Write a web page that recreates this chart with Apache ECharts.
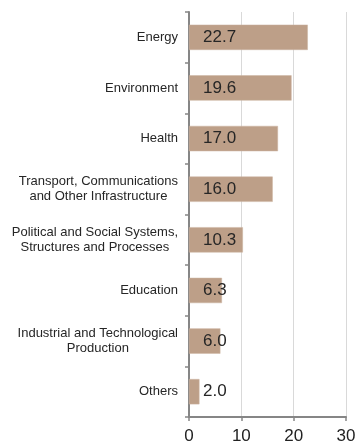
<!DOCTYPE html>
<html><head><meta charset="utf-8">
<script src="https://cdn.jsdelivr.net/npm/echarts@6/dist/echarts.min.js"></script>
<style>html,body{margin:0;padding:0;background:#fff}#c{width:357px;height:442px}</style>
</head><body><div id="c"></div>
<script>
const categories = [
  'Energy',
  'Environment',
  'Health',
  'Transport, Communications\nand Other Infrastructure',
  'Political and Social Systems,\nStructures and Processes',
  'Education',
  'Industrial and Technological\nProduction',
  'Others'
];
const values = [22.7, 19.6, 17.0, 16.0, 10.3, 6.3, 6.0, 2.0];
const xTicks = [0, 10, 20, 30];

const chart = echarts.init(document.getElementById('c'), null, {renderer: 'canvas'});
chart.setOption({
  animation: false,
  grid: {left: 189, right: 11, top: 12, bottom: 25, containLabel: false, outerBoundsMode: 'none'},
  xAxis: {
    type: 'value', min: xTicks[0], max: xTicks[xTicks.length - 1], interval: 10,
    axisLine: {show: true, lineStyle: {color: '#868686', width: 2}},
    axisTick: {show: true, length: 4, lineStyle: {color: '#868686', width: 1.5}},
    axisLabel: {color: '#222', fontSize: 17, fontFamily: 'Liberation Sans, Arial, sans-serif', margin: 11},
    splitLine: {show: true, lineStyle: {color: '#d9d9d9', width: 1}}
  },
  yAxis: {
    type: 'category', data: categories, inverse: true,
    axisLine: {show: true, lineStyle: {color: '#868686', width: 2}},
    axisTick: {show: true, length: 4, alignWithLabel: false, lineStyle: {color: '#868686', width: 1.5}},
    axisLabel: {
      color: '#262626', fontSize: 13, fontFamily: 'Liberation Sans, Arial, sans-serif', margin: 11, lineHeight: 15,
      formatter: function (v) { return v.split('\n').map(function (l) { return '{c|' + l + '}'; }).join('\n'); },
      rich: {c: {align: 'center', fontSize: 13, lineHeight: 15, color: '#262626', fontFamily: 'Liberation Sans, Arial, sans-serif'}}
    }
  },
  series: [{
    type: 'bar', data: values, barCategoryGap: '50%',
    itemStyle: {color: '#bd9f88', borderColor: '#cdb5a2', borderWidth: 0.5},
    label: {
      show: true, position: 'insideLeft', distance: 14,
      color: '#262626', fontSize: 17, fontFamily: 'Liberation Sans, Arial, sans-serif',
      textBorderWidth: 0, textBorderColor: 'transparent',
      formatter: function (p) { return p.value.toFixed(1); }
    }
  }]
});
</script></body></html>
